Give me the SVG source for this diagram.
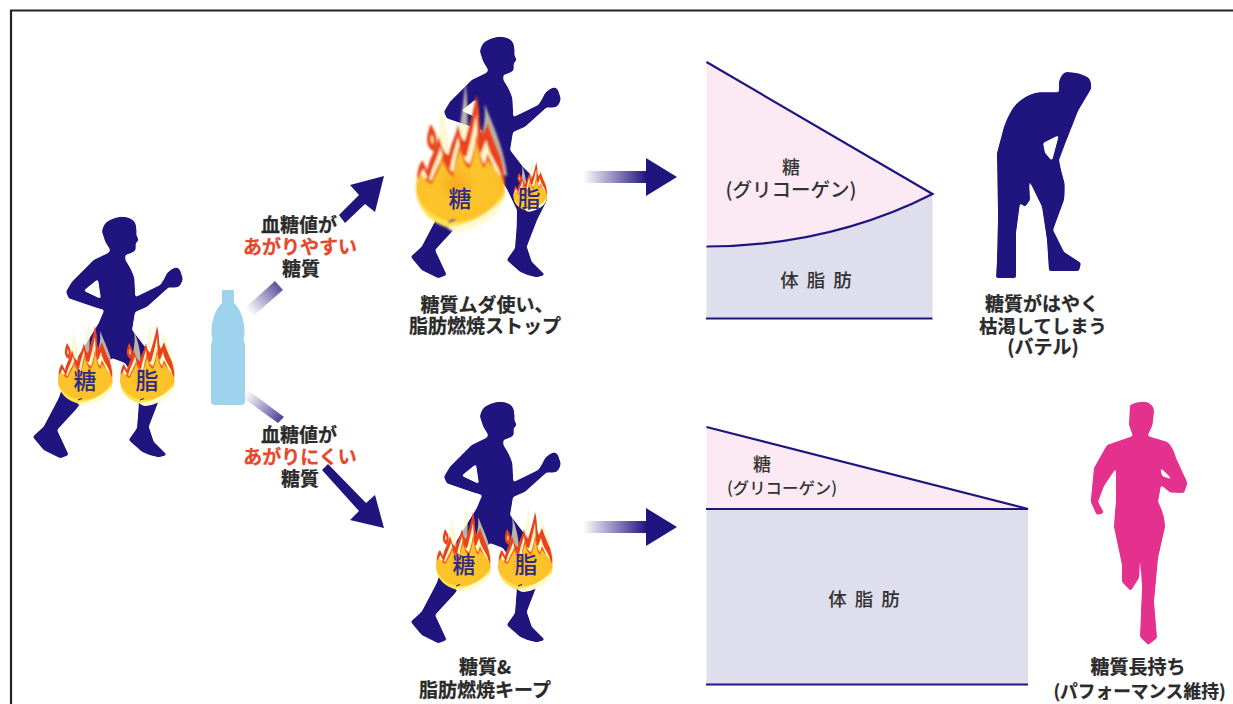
<svg xmlns="http://www.w3.org/2000/svg" xmlns:xlink="http://www.w3.org/1999/xlink" width="1233" height="704" viewBox="0 0 1233 704">
<style>
text{font-family:"Noto Sans CJK JP","Noto Sans CJK SC",sans-serif;text-anchor:middle}
.cap{font-size:19px;font-weight:700;fill:#2a2a2a;stroke:#2a2a2a;stroke-width:.25}
.hot{font-size:19px;font-weight:700;fill:#e5482a;stroke:#e5482a;stroke-width:.25}
.chart{font-size:18px;font-weight:500;fill:#333}
.burn{font-size:23px;font-weight:500;fill:#2e2a86;dominant-baseline:central}
.navy{fill:#20147f;fill-rule:evenodd;filter:url(#round)}
.pink{fill:#e5318e;fill-rule:evenodd;filter:url(#round)}
.edge{fill:none;stroke:#20147f;stroke-width:2.200}
</style>
<defs>
<linearGradient id="fadeH" x1="0" x2="1" y1="0" y2="0"><stop offset="0" stop-color="#20147f" stop-opacity="0"/><stop offset="1" stop-color="#20147f"/></linearGradient>
<linearGradient id="fadeUp" gradientUnits="userSpaceOnUse" x1="248" y1="312" x2="282" y2="282"><stop offset="0" stop-color="#5a4a9c" stop-opacity="0"/><stop offset="1" stop-color="#4a3a94"/></linearGradient>
<linearGradient id="fadeDown" gradientUnits="userSpaceOnUse" x1="248" y1="393" x2="282" y2="421"><stop offset="0" stop-color="#5a4a9c" stop-opacity=".05"/><stop offset="1" stop-color="#4a3a94"/></linearGradient>
<radialGradient id="ember" cx=".46" cy=".5" r=".62"><stop offset="0" stop-color="#f7ab20"/><stop offset=".4" stop-color="#fcc52c"/><stop offset=".8" stop-color="#fdc02a"/><stop offset="1" stop-color="#f9a11c"/></radialGradient>
<filter id="soft" x="-10%" y="-10%" width="120%" height="120%"><feGaussianBlur stdDeviation=".5"/></filter>
<!-- rounds the corners of the silhouettes: blur, then tighten the alpha edge -->
<filter id="round" x="-5%" y="-5%" width="110%" height="110%" color-interpolation-filters="sRGB"><feGaussianBlur stdDeviation="1.300"/><feComponentTransfer><feFuncA type="linear" slope="3.500" intercept="-1.250"/></feComponentTransfer></filter>

<!-- running figure, thighs included so the flames can sit on top -->
<path id="runner" class="navy" d="M500,401.700 Q510,402 513.300,408.300 Q515,414 514.300,420 L516.700,425 L513.500,428.500 Q514,433 513.300,435.700 Q508,439 503.300,440 L503.300,445 Q510,455 512.300,463.300 L513.300,482.300 L538.300,470 Q542,465 545,458.300 Q550,453 555,452.300 L558,455 L560.700,463.300 Q560,469 556.700,471.700 Q551,473 546.700,472.300 L525,491.700 L513,497 L510,515 L523,532 L543,552 L547,565 L537,585 L526.700,611.700 L531.700,626.700 L545,640 L536.700,642.300 Q528,641 520,636.700 L506.700,625 L515,613.300 L516.700,591.700 L517,575 L507,554 L503,548 L490,543 L470,570 L455,593.300 L435,615 L446.700,640 L438.300,643.300 L421.700,635 L410.700,621.700 L421.700,611.700 L436.700,583.300 L445,560 L476.700,508.300 L482.300,495 L473,492.300 L446.700,483.300 L444,476.700 L450,466.700 L471.700,445 L486.700,437.700 L488.300,435 L483.300,426.700 L480,416.700 Q481,410 485,406.700 Q492,402 500,401.700Z M476,464 L461.500,475.700 L479,484Z"/>

<!-- flame centred on its ball -->
<g id="flame" filter="url(#soft)">
<g fill="#fbf7bd" opacity=".7">
<path d="M-17,-14 C-14,-26 -11,-36 -13,-48 C-8,-36 -6,-24 -6,-14Z"/>
<path d="M-1,-24 C0,-40 3,-50 3,-62 C5,-50 5,-36 4,-22Z"/>
<path d="M12,-24 C14,-32 16,-38 15,-48 C20,-36 27,-22 29,-6 L20,-8Z"/>
</g>
<path fill="#e9431f" d="M-26,0 C-27,-8 -25,-13 -23,-15 L-20,-9 C-19,-16 -15,-20 -13,-29 C-11,-22 -10,-19 -7,-18 C-6,-24 -3,-28 -1,-36 C0,-30 1,-27 3,-26 C5,-33 8,-42 10,-53 C13,-42 11,-36 14,-30 C15,-33 16,-34 17,-37 C20,-28 22,-24 25,-17 C27,-10 28,-4 27,0Z"/>
<path fill="#fff7c4" d="M-25,2 C-25,-5 -24,-8 -22.500,-10 L-19,-3 C-17,-12 -14,-15 -12,-23 C-10,-14 -9,-12 -6,-10 C-5,-17 -3,-22 -1,-29 C0,-20 1,-17 4,-17 C6,-24 8,-32 10,-42 C11,-28 10,-22 13,-19 L16,-27 C18,-18 22,-14 24.500,-8 C26,-3 26,0 25.500,2Z"/>
<path fill="#f2641e" d="M-24,2 L-21,-5 L-17.500,-3 C-15,-10 -12,-13 -11,-18 C-9,-13 -7,-10 -4,-8 C-3,-14 -2,-19 0,-25 C2,-17 3,-14 6,-13 C8,-18 9,-23 10,-30 C12,-20 13,-15 15,-13 L17,-19 C20,-12 24,-6 24,2Z"/>
<path fill="url(#ember)" d="M-27,1 C-27,-3 -25.500,-5 -24,-7 L-20,-2 L-17,-1 C-15,-7 -12,-10 -11,-15 C-9,-10 -7,-7 -4,-5 C-3,-11 -2,-15 0,-21 C2,-14 3,-11 6,-10 C8,-14 9,-19 10,-26 C12,-16 13,-12 15,-10 L17,-15 C21,-9 27,-6 27.500,1 C28,15 14,25 0,25 C-14,25 -27,15 -27,1Z"/>
<path fill="#ffe24f" d="M-26,6 C-22,15 -12,21 -1,21 C11,20 22,13 27,3 C27,15 14,25 0,25 C-14,25 -25,16 -26,6Z"/>
<path fill="#fffbd0" d="M-8,24 C6,23 18,16 27,7 C24,17 12,26 -2,27 C-5,26.500 -7,25 -8,24Z"/>
<path fill="#e9431f" d="M-18,-36 C-14,-30 -13,-26 -16,-20 C-20,-22 -22,-26 -18,-36Z"/>
<path fill="#fff3a0" d="M-17.500,-30 C-16,-28 -16,-26 -17,-24 C-18,-26 -18,-28 -17.500,-30Z"/>
<path fill="none" stroke="#20147f" stroke-width="1" d="M-7,21 L-3,19.500"/>
</g>
</defs>

<g id="frame"><path fill="none" stroke="#222" stroke-width="2.200" d="M11,704 V10.500 H1233"/></g>

<g id="connectors">
<polygon fill="url(#fadeUp)" points="245,308 252,317 283,290 275,281"/>
<polygon fill="#20147f" points="339,215 345,223 365,204 375,212 384,176 350,185 359,195"/>
<polygon fill="url(#fadeDown)" points="248,390 242,397 278,423 284,417"/>
<polygon fill="#20147f" points="322,470 328,464 366,503 375,495 384,528 350,520 359,511"/>
<polygon fill="url(#fadeH)" points="583,171 647,171 647,183 583,183"/>
<polygon fill="#20147f" points="646,158 677,177 646,196"/>
<polygon fill="url(#fadeH)" points="583,521 647,521 647,533 583,533"/>
<polygon fill="#20147f" points="646,508 677,527 646,546"/>
</g>

<g id="runner-start">
<use href="#runner" transform="translate(-378,-185)"/>
<use href="#flame" transform="translate(85,379)"/>
<use href="#flame" transform="translate(147,379)"/>
<text class="burn" x="85" y="379">糖</text>
<text class="burn" x="147" y="379">脂</text>
</g>

<g id="bottle"><path fill="#9ed3ee" d="M223,290 H233 Q234,290 234,292 V303 C241,310 244.500,320 244.500,333 Q244.500,337 243.500,340 L245,344 V401 Q245,405 241,405 H215 Q211,405 211,401 V344 L212.500,340 Q211.500,337 211.500,333 C211.500,320 215,310 222,303 V292 Q222,290 223,290Z"/></g>

<g id="runner-sugar">
<use href="#runner" transform="translate(0,-365)"/>
<use href="#flame" transform="translate(460,186) scale(1.63,1.72)"/>
<use href="#flame" transform="translate(530,195) scale(.62)"/>
<text class="burn" x="460" y="197">糖</text>
<text class="burn" x="529" y="197">脂</text>
</g>

<g id="runner-balanced">
<use href="#runner"/>
<use href="#flame" transform="translate(463,565)"/>
<use href="#flame" transform="translate(525,565)"/>
<text class="burn" x="464" y="563">糖</text>
<text class="burn" x="526" y="563">脂</text>
</g>

<g id="label-fast">
<text class="cap" x="299" y="232">血糖値が</text>
<text class="hot" x="300" y="254">あがりやすい</text>
<text class="cap" x="301" y="276">糖質</text>
</g>
<g id="label-slow">
<text class="cap" x="299" y="442">血糖値が</text>
<text class="hot" x="300" y="464">あがりにくい</text>
<text class="cap" x="300" y="486">糖質</text>
</g>
<g id="label-waste">
<text class="cap" x="487" y="312">糖質ムダ使い、</text>
<text class="cap" x="485" y="333">脂肪燃焼ストップ</text>
</g>
<g id="label-keep">
<text class="cap" x="485" y="674">糖質&amp;</text>
<text class="cap" x="485" y="697">脂肪燃焼キープ</text>
</g>

<g id="chart-depleting">
<path fill="#fbe9f4" d="M706.500,62 L932.500,194 Q830,246 706.500,246.500Z"/>
<path fill="#dedeec" d="M706.500,246.500 Q830,246 932.500,194 V318 H706.500Z"/>
<path class="edge" d="M706.500,62 L932.500,194 Q830,246 706.500,246.500"/>
<path class="edge" d="M706,318.500 H932.500"/>
<text class="chart" x="791" y="174">糖</text>
<text class="chart" x="791" y="197" style="font-size:19.500px">(グリコーゲン)</text>
<text class="chart" x="820" y="287" letter-spacing="8" style="font-size:18.500px">体脂肪</text>
</g>

<g id="chart-lasting">
<path fill="#fbe9f4" d="M706.500,427 L1028,509 H706.500Z"/>
<path fill="#dedeec" d="M706.500,509 H1028 V684 H706.500Z"/>
<path class="edge" d="M706.500,427 L1028,509 H706"/>
<path class="edge" d="M706,684.500 H1028"/>
<text class="chart" x="762" y="471">糖</text>
<text class="chart" x="782" y="494" style="font-size:16.400px">(グリコーゲン)</text>
<text class="chart" x="868" y="606" letter-spacing="8" style="font-size:18.500px">体脂肪</text>
</g>

<g id="figure-exhausted">
<path class="navy" d="M1066,72 Q1080,72 1089,78 Q1092,83 1091,89 L1078,111 L1065,144 L1059,160 L1061,170 L1064.500,183 Q1065,192 1064,200 L1053,230 L1064,252 L1081,263 L1079,271 L1049,271 L1047,240 L1042,206.700 L1029,180 L1030,200 L1025,207 L1020,203 L1016,233 L1016,278 L996,278 L997,260 L998,216.700 L997,153 L1004,126.700 Q1011,107 1020,100.700 Q1030,93 1040,92.300 L1059,92.300 L1059,81.700 Q1061,74 1066,72Z M1043,143 L1059,135 L1052,161 L1045,153Z"/>
<text class="cap" x="1042" y="311">糖質がはやく</text>
<text class="cap" x="1043" y="333" style="font-size:18.300px">枯渇してしまう</text>
<text class="cap" x="1043" y="354">(バテル)</text>
</g>

<g id="figure-lasting">
<path class="pink" d="M1130,405 Q1138,401 1146.700,402 Q1154,405 1154,411 L1152.500,425 L1147.500,436 L1167.500,442 Q1173,447 1176,458 L1187.500,483 L1184,493 L1170,492.500 L1161,485 L1158,501.700 Q1165,515 1165,527 L1158,558 L1154,601.700 L1157,638 L1148.300,645 L1140,637 L1142,588 L1140,547 L1139,578 L1130.700,591 L1122,582 L1122,565 L1114,527 Q1115,510 1116,501.700 L1116,468 L1104,486 L1098,501.700 L1104,513 L1096.700,515 L1090.700,501.700 L1094,468 L1107,445 L1133,436 L1129,425Z M1160,467 L1173,480 L1162,476Z"/>
<text class="cap" x="1138" y="674">糖質長持ち</text>
<text class="cap" x="1139.500" y="698" style="font-size:17.700px">(パフォーマンス維持)</text>
</g>
</svg>
